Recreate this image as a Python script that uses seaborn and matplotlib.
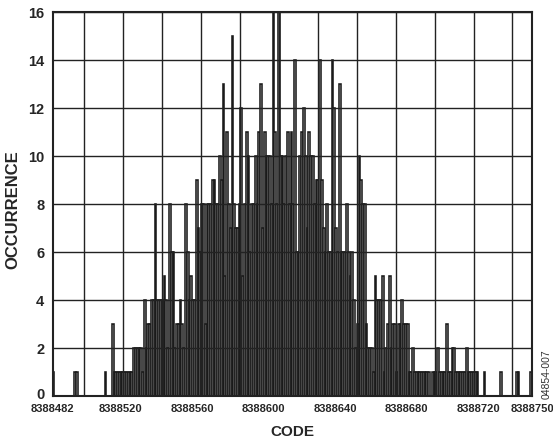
import numpy as np
import pandas as pd
import matplotlib
matplotlib.use("Agg")
import matplotlib.pyplot as plt
import matplotlib.transforms as mtransforms
import seaborn as sns

# histogram of output codes, one count per code starting at first_code
first_code = 8388482
occurrence = [
    1, 0, 0, 0, 0, 0, 0, 0, 0, 0,
    0, 0, 1, 1, 0, 0, 0, 0, 0, 0,
    0, 0, 0, 0, 0, 0, 0, 0, 0, 1,
    0, 0, 0, 3, 1, 1, 1, 1, 1, 1,
    1, 1, 1, 1, 1, 2, 2, 2, 2, 2,
    1, 4, 2, 3, 3, 4, 4, 8, 4, 4,
    4, 4, 5, 4, 2, 8, 6, 6, 2, 3,
    3, 4, 3, 2, 8, 6, 4, 5, 4, 4,
    9, 7, 6, 8, 8, 3, 8, 8, 8, 9,
    9, 8, 8, 10, 9, 13, 5, 11, 8, 7,
    15, 8, 7, 7, 8, 12, 5, 8, 11, 10,
    6, 8, 8, 10, 8, 11, 13, 7, 11, 10,
    10, 10, 8, 16, 11, 8, 16, 10, 10, 8,
    10, 11, 8, 11, 8, 14, 6, 6, 10, 11,
    12, 10, 7, 11, 10, 10, 8, 9, 9, 14,
    9, 7, 6, 8, 6, 6, 14, 12, 7, 6,
    13, 6, 6, 6, 8, 6, 5, 6, 4, 2,
    3, 10, 9, 8, 8, 3, 2, 2, 2, 1,
    5, 4, 4, 4, 5, 1, 2, 3, 5, 2,
    3, 3, 1, 3, 3, 4, 3, 3, 3, 1,
    1, 2, 1, 1, 1, 1, 1, 1, 1, 1,
    1, 0, 1, 1, 1, 2, 1, 1, 1, 1,
    3, 1, 1, 2, 2, 1, 1, 1, 1, 1,
    1, 2, 1, 1, 1, 1, 1, 1, 0, 0,
    0, 1, 0, 0, 0, 0, 0, 0, 0, 0,
    1, 0, 0, 0, 0, 0, 0, 0, 0, 1,
    1, 0, 0, 0, 0, 0, 0, 1, 0,
]
tick_codes = [8388482, 8388520, 8388560, 8388600, 8388640, 8388680, 8388720, 8388750]
y_ticks = [0, 2, 4, 6, 8, 10, 12, 14, 16]

df = pd.DataFrame({"code": np.arange(first_code, first_code + len(occurrence)),
                   "count": occurrence})

sns.set_style("white")
plt.rcParams['font.family'] = ['Liberation Sans', 'DejaVu Sans']

fig = plt.figure(figsize=(5.53, 4.45), dpi=100)
ax = fig.add_axes([0.0953, 0.110, 0.8667, 0.863])

sns.histplot(data=df, x="code", weights="count", binwidth=1,
             binrange=(first_code, first_code + len(occurrence)),
             color="white", edgecolor="#1a1a1a", linewidth=1.15, alpha=1, ax=ax)

ax.set_xlim(first_code, 8388750)
ax.set_ylim(0, 16)
ax.set_xticks(tick_codes)
ax.set_xticklabels([str(t) for t in tick_codes], fontsize=8, fontweight="bold")
ax.set_yticks(y_ticks)
ax.set_yticklabels([str(t) for t in y_ticks], fontsize=10.5, fontweight="bold")
# vertical grid does not follow the labels in the original
ax.set_xticks(np.arange(8388499.7, 8388745, 21.76), minor=True)
ax.tick_params(axis="both", which="both", length=0)
ax.tick_params(axis="x", pad=6)
ax.tick_params(axis="y", pad=6)
ax.grid(False)
ax.grid(True, axis="x", which="minor", color="#222222", linewidth=1.0)
ax.grid(True, axis="y", which="major", color="#222222", linewidth=1.0)
ax.set_axisbelow(False)
for s in ax.spines.values():
    s.set_visible(True)
    s.set_color("#222222")
    s.set_linewidth(1.5)

# lift the "0" a little so it clears the first code label
zero_lbl = ax.get_yticklabels()[0]
zero_lbl.set_transform(zero_lbl.get_transform() +
                       mtransforms.ScaledTranslation(0, 2 / 72, fig.dpi_scale_trans))

ax.set_xlabel("CODE", fontsize=11, fontweight="bold")
ax.set_ylabel("OCCURRENCE", fontsize=12, fontweight="bold")
ax.xaxis.set_label_coords(0.5, -0.075)
ax.yaxis.set_label_coords(-0.068, 0.485)

fig.text(0.988, 0.16, "04854-007", rotation=90, fontsize=7.5, ha="center", va="center",
         color="#333333")

fig.savefig("out.png", dpi=100)
